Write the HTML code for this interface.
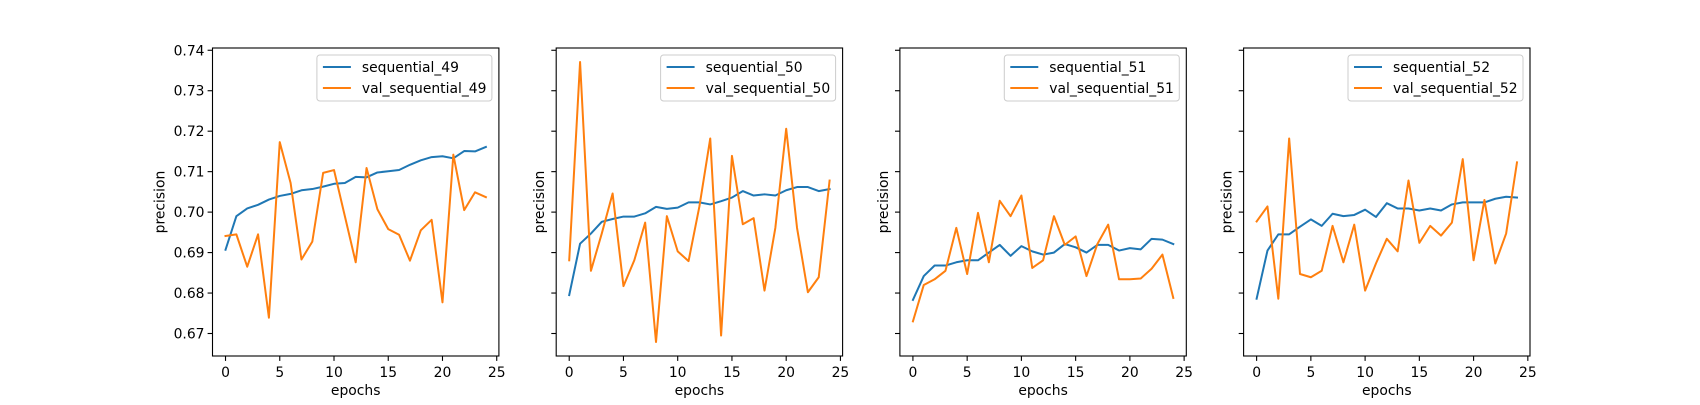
<!DOCTYPE html>
<html><head><meta charset="utf-8"><style>
body{margin:0;background:#fff}
svg text{font-family:"DejaVu Sans","Liberation Sans",sans-serif;font-size:13.9px;fill:#000}
</style></head><body>
<svg id="fig" width="1700" height="400" xmlns="http://www.w3.org/2000/svg"></svg>
<script>
const epochs = [0,1,2,3,4,5,6,7,8,9,10,11,12,13,14,15,16,17,18,19,20,21,22,23,24];
const yTicks = [0.67,0.68,0.69,0.70,0.71,0.72,0.73,0.74];
const yTickLabels = ["0.67","0.68","0.69","0.70","0.71","0.72","0.73","0.74"];
const xTicks = [0,5,10,15,20,25];
const seriesNames = ["49","50","51","52"];
const train49 = [0.6907,0.6990,0.7009,0.7018,0.7031,0.7040,0.7045,0.7054,0.7057,0.7063,0.7070,0.7072,0.7087,0.7086,0.7098,0.7101,0.7104,0.7117,0.7128,0.7136,0.7138,0.7133,0.7151,0.7150,0.7161];
const val49 = [0.6941,0.6945,0.6865,0.6945,0.6739,0.7173,0.7072,0.6883,0.6927,0.7097,0.7104,0.6990,0.6876,0.7109,0.7007,0.6958,0.6944,0.6880,0.6955,0.6981,0.6777,0.7142,0.7005,0.7049,0.7037];
const train50 = [0.6795,0.6922,0.6947,0.6976,0.6983,0.6989,0.6989,0.6997,0.7013,0.7008,0.7011,0.7024,0.7024,0.7019,0.7027,0.7036,0.7052,0.7041,0.7044,0.7041,0.7054,0.7062,0.7062,0.7052,0.7057];
const val50 = [0.6881,0.7371,0.6855,0.6947,0.7046,0.6817,0.6881,0.6974,0.6679,0.6990,0.6903,0.6879,0.7014,0.7182,0.6695,0.7139,0.6970,0.6985,0.6806,0.6961,0.7206,0.6961,0.6802,0.6839,0.7078];
const train51 = [0.6783,0.6842,0.6868,0.6868,0.6876,0.6881,0.6881,0.6900,0.6919,0.6892,0.6916,0.6903,0.6895,0.6900,0.6921,0.6913,0.6900,0.6919,0.6919,0.6905,0.6911,0.6908,0.6934,0.6932,0.6921];
const val51 = [0.6730,0.6820,0.6834,0.6855,0.6961,0.6847,0.6998,0.6876,0.7028,0.6990,0.7041,0.6862,0.6881,0.6990,0.6919,0.6940,0.6842,0.6921,0.6969,0.6834,0.6834,0.6836,0.6860,0.6895,0.6788];
const train52 = [0.6786,0.6905,0.6945,0.6945,0.6964,0.6982,0.6966,0.6996,0.6990,0.6993,0.7006,0.6988,0.7022,0.7009,0.7009,0.7004,0.7009,0.7004,0.7019,0.7024,0.7024,0.7024,0.7033,0.7038,0.7036];
const val52 = [0.6977,0.7014,0.6786,0.7182,0.6847,0.6839,0.6855,0.6966,0.6876,0.6969,0.6806,0.6873,0.6934,0.6903,0.7078,0.6924,0.6966,0.6942,0.6974,0.7131,0.6881,0.7030,0.6873,0.6947,0.7123];
const trains = [train49,train50,train51,train52];
const vals = [val49,val50,val51,val52];

const NS="http://www.w3.org/2000/svg";
const svg=document.getElementById('fig');
function mk(tag,attrs,parent){const e=document.createElementNS(NS,tag);for(const k in attrs)e.setAttribute(k,attrs[k]);(parent||svg).appendChild(e);return e;}
const W=286.4, GAP=57.3, L0=212.5, TOP=48, BOT=356;
const all=[].concat(...trains,...vals);
const dmin=Math.min(...all), dmax=Math.max(...all), dd=dmax-dmin;
const y0=dmin-0.05*dd, y1=dmax+0.05*dd;
const xmin=-1.2, xmax=25.2;
for(let p=0;p<4;p++){
  const L=L0+p*(W+GAP), R=L+W;
  const sx=v=>L+(v-xmin)/(xmax-xmin)*W;
  const sy=v=>BOT-(v-y0)/(y1-y0)*(BOT-TOP);
  const g=mk('g',{});
  
  
  const cols=[["#1f77b4",trains[p],"train-line-"],["#ff7f0e",vals[p],"val-line-"]];
  cols.forEach(c=>{
    const pts=epochs.map((e,i)=>sx(e).toFixed(2)+','+sy(c[1][i]).toFixed(2)).join(' ');
    const pl=mk('polyline',{points:pts,fill:'none',stroke:c[0],'stroke-width':2,'stroke-linejoin':'round','stroke-linecap':'square'},g);
    
    
  });
  const fr=mk('rect',{x:L,y:TOP,width:W,height:BOT-TOP,fill:'none',stroke:'#000','stroke-width':1.1},g);
  
  
  yTicks.forEach((t,i)=>{
    const y=sy(t);
    mk('line',{x1:L-4.9,x2:L,y1:y,y2:y,stroke:'#000','stroke-width':1.1},g);
    if(p===0){
      const tx=mk('text',{x:L-8,y:y+5,'text-anchor':'end'},g);
      tx.textContent=yTickLabels[i];
      
      
    }
  });
  xTicks.forEach(t=>{
    const x=sx(t);
    mk('line',{x1:x,x2:x,y1:BOT,y2:BOT+4.9,stroke:'#000','stroke-width':1.1},g);
    const tx=mk('text',{x:x,y:BOT+21,'text-anchor':'middle'},g);
    tx.textContent=String(t);
    
    
  });
  const xl=mk('text',{x:(L+R)/2,y:395,'text-anchor':'middle'},g);
  xl.textContent='epochs';
  
  
  const yx=p===0?L-48:L-12;
  const yl=mk('text',{x:yx,y:(TOP+BOT)/2,'text-anchor':'middle',transform:`rotate(-90 ${yx} ${(TOP+BOT)/2})`},g);
  yl.textContent='precision';
  
  
  // legend
  const lg=mk('g',{},g);
  
  
  const lw=175, lx=R-7-lw, ly=55;
  mk('rect',{x:lx,y:ly,width:lw,height:46,rx:3,fill:'#fff','fill-opacity':0.8,stroke:'#ccc','stroke-width':1},lg);
  [["#1f77b4","sequential_"+seriesNames[p],67],["#ff7f0e","val_sequential_"+seriesNames[p],88]].forEach(e=>{
    mk('line',{x1:lx+6,x2:lx+34,y1:e[2],y2:e[2],stroke:e[0],'stroke-width':2},lg);
    const t=mk('text',{x:lx+45,y:e[2]+5},lg);
    t.textContent=e[1];
    
    
  });
}
</script>
</body></html>
